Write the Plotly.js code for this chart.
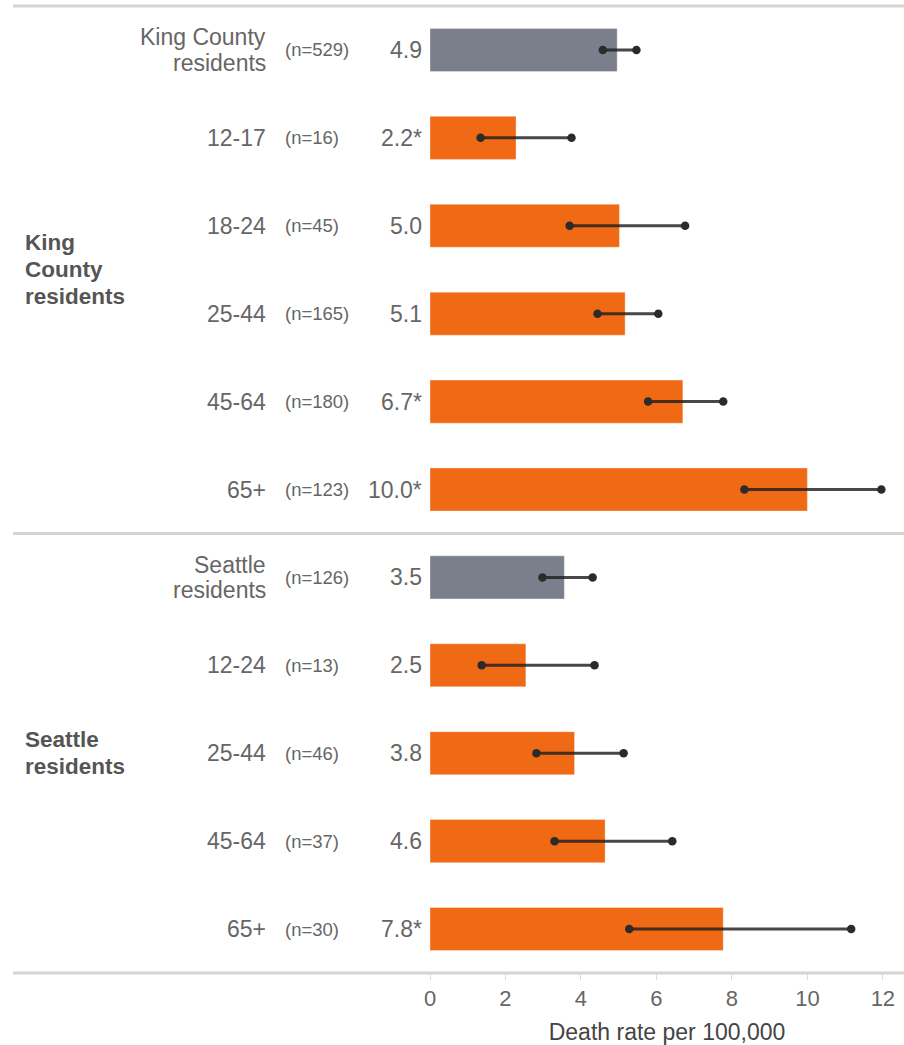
<!DOCTYPE html>
<html><head><meta charset="utf-8">
<script src="https://cdn.plot.ly/plotly-3.0.1.min.js"></script>
<style>html,body{margin:0;padding:0;background:#fff}</style>
</head><body><div id="chart" style="width:904px;height:1045px"></div>
<script>
const categories = ["King County<br>residents","12-17","18-24","25-44","45-64","65+","Seattle<br>residents","12-24","25-44","45-64","65+"];
const counts = ["(n=529)","(n=16)","(n=45)","(n=165)","(n=180)","(n=123)","(n=126)","(n=13)","(n=46)","(n=37)","(n=30)"];
const rateLabels = ["4.9","2.2*","5.0","5.1","6.7*","10.0*","3.5","2.5","3.8","4.6","7.8*"];
const rates = [4.96,2.28,5.02,5.17,6.70,10.0,3.56,2.54,3.83,4.64,7.77];
const ciLow = [4.58,1.34,3.70,4.44,5.78,8.33,2.98,1.37,2.82,3.30,5.28];
const ciHigh = [5.47,3.75,6.76,6.05,7.77,11.96,4.31,4.36,5.13,6.42,11.16];
const isTotal = [true,false,false,false,false,false,true,false,false,false,false];
const groups = ["King<br>County<br>residents","Seattle<br>residents"];
const groupRows = [2.5, 8];
const sectionStarts = [0, 6];

const FONT = "Liberation Sans, Arial, sans-serif";
const rows = categories.map((c,i)=>i);
const n = categories.length;

const ciX = [], ciY = [];
rows.forEach(i=>{ ciX.push(ciLow[i], ciHigh[i], null); ciY.push(i, i, null); });

const bars = {
  type:'bar', orientation:'h', x: rates, y: rows, width: 0.49,
  marker:{color: isTotal.map(t=> t ? '#7A7F8B' : '#F06914'),
          line:{color:'rgba(255,255,255,0.35)', width:1}},
  hoverinfo:'skip'
};
const ci = {
  type:'scatter', mode:'lines+markers', x: ciX, y: ciY, connectgaps:false,
  line:{color:'rgba(30,30,30,0.82)', width:3},
  marker:{color:'#2b2b2b', size:8.5},
  hoverinfo:'skip'
};

const L = 430, W = 904 - L;
const px = p => (p - L) / W;
const annotations = [];
function multiline(text, lineGap, base){
  const parts = text.split('<br>');
  parts.forEach((t,j)=>{
    annotations.push(Object.assign({}, base, {text:t, yshift:((parts.length-1)/2 - j)*lineGap}));
  });
}
rows.forEach(i=>{
  multiline(categories[i], 25.5, {xref:'paper', yref:'y', x:px(268), y:i, xanchor:'right', yanchor:'middle',
    showarrow:false, font:{family:FONT, size:23, color:'#666'}});
  annotations.push({xref:'paper', yref:'y', x:px(283), y:i, xanchor:'left', yanchor:'middle',
    text:counts[i], showarrow:false, font:{family:FONT, size:18.5, color:'#666'}});
  annotations.push({xref:'paper', yref:'y', x:px(424), y:i, xanchor:'right', yanchor:'middle',
    text:rateLabels[i], showarrow:false, font:{family:FONT, size:23, color:'#666'}});
});
groups.forEach((g,k)=>{
  multiline('<b>'+g.split('<br>').join('</b><br><b>')+'</b>', 27, {xref:'paper', yref:'y', x:px(23), y:groupRows[k],
    xanchor:'left', yanchor:'middle', showarrow:false, font:{family:FONT, size:22.5, color:'#555'}});
});

const shapes = [];
sectionStarts.concat([n]).forEach(s=>{
  const yy = 1 - s / n;
  shapes.push({type:'line', xref:'paper', yref:'paper', x0:px(13), x1:1, y0:yy, y1:yy,
    line:{color:'#d4d4d4', width:3}});
});

const layout = {
  width:904, height:1045,
  margin:{l:L, r:0, t:6, b:72},
  paper_bgcolor:'#fff', plot_bgcolor:'#fff',
  showlegend:false, hovermode:false,
  xaxis:{range:[0,12.56], dtick:2, tick0:0, showgrid:false, zeroline:false,
    showline:false, ticks:'outside', ticklen:6, tickwidth:1, tickcolor:'#dcdcdc',
    tickfont:{family:FONT, size:22, color:'#666'},
    title:{text:'Death rate per 100,000', font:{family:FONT, size:23, color:'#444'}, standoff:14}},
  yaxis:{range:[n-0.5,-0.5], showticklabels:false, showgrid:false, zeroline:false, showline:false, ticks:''},
  annotations, shapes
};
Plotly.newPlot('chart', [bars, ci], layout, {displayModeBar:false, staticPlot:true});
</script></body></html>
